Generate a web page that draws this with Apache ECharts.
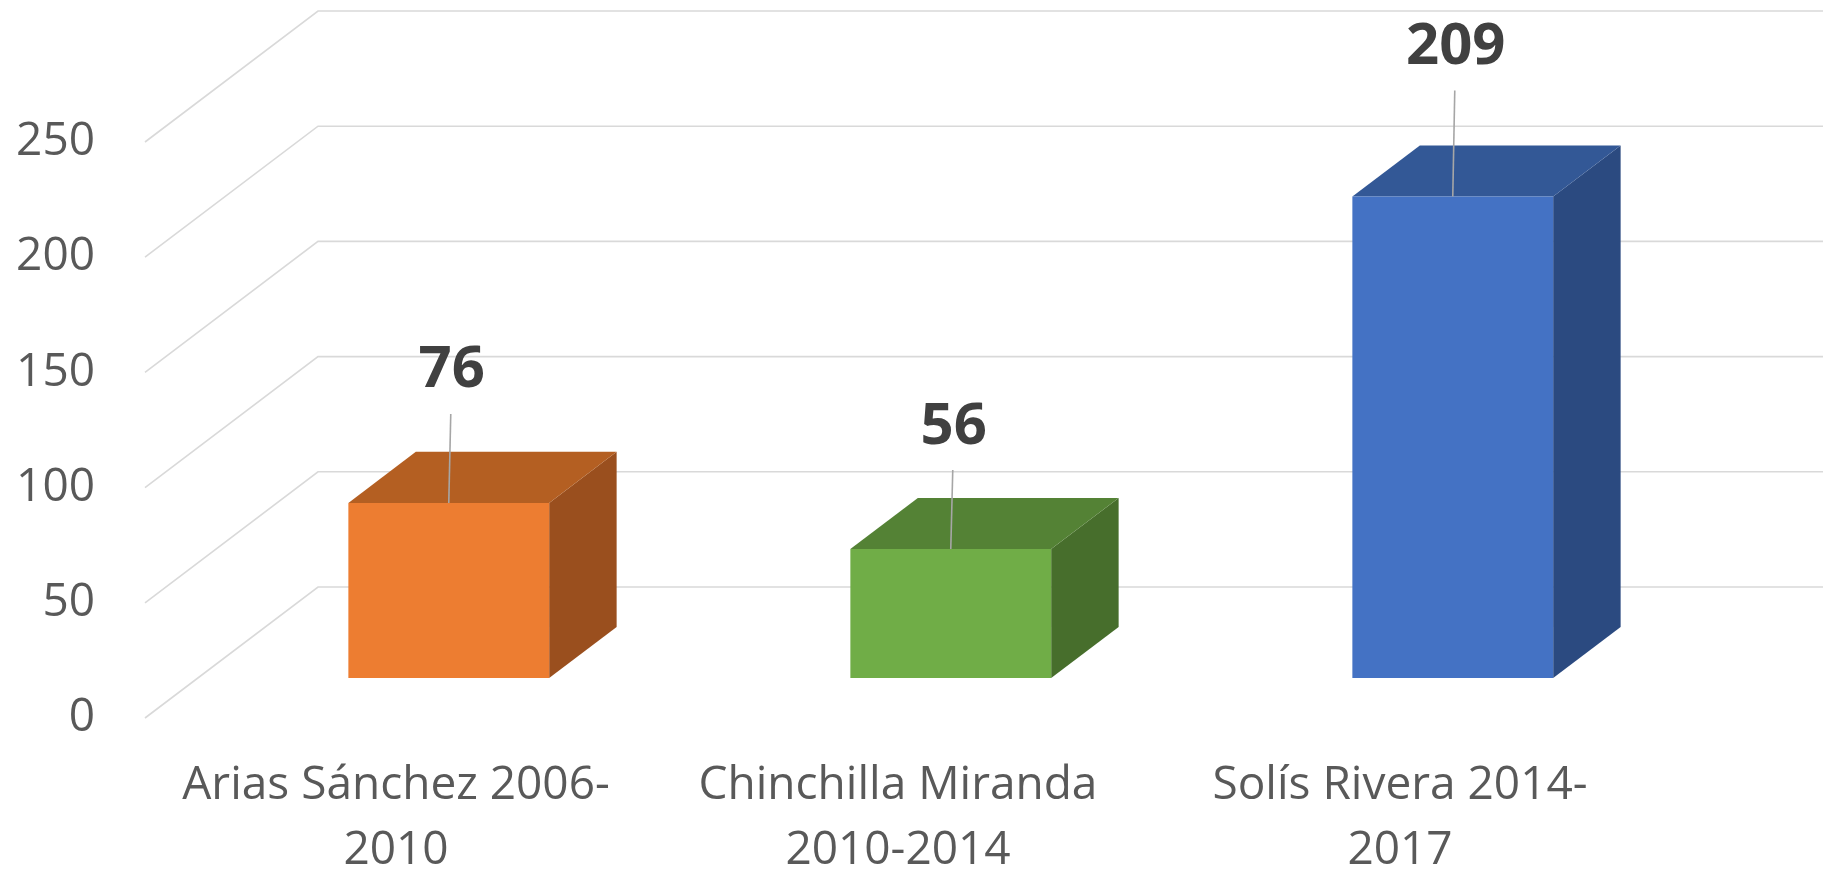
<!DOCTYPE html>
<html>
<head>
<meta charset="utf-8">
<script src="https://cdn.jsdelivr.net/npm/echarts@6/dist/echarts.min.js"></script>
<style>
  html, body { margin: 0; padding: 0; background: #fff; }
  #main { width: 1823px; height: 872px; }
</style>
</head>
<body>
<div id="main"></div>
<script>
// data
var categories = ['Arias Sánchez 2006-\n2010', 'Chinchilla Miranda\n2010-2014', 'Solís Rivera 2014-\n2017'];
var values = [76, 56, 209];
var yTicks = [0, 50, 100, 150, 200, 250];

// look
var frontColors = ['#ED7D31', '#70AD47', '#4472C4'];
var topColors = ['#B45F22', '#548235', '#335896'];
var sideColors = ['#9A4F1E', '#476E2C', '#2B4A80'];
var labelLift = [89, 79, 106];
var DEPTH_X = 173, DEPTH_Y = 131; // floor depth, label plane -> back wall
var FRONT = 0.305, BACK = 0.695;   // bar faces along the depth
var FONT = '"Open Sans", "Noto Sans", sans-serif';

var chart = echarts.init(document.getElementById('main'));

function renderWall(params, api) {
  var cs = params.coordSys;
  var y = api.coord([0, api.value(0)])[1];
  var x0 = cs.x, x1 = cs.x + cs.width;
  return {
    type: 'polyline',
    shape: { points: [[x0, y], [x0 + DEPTH_X, y - DEPTH_Y], [x1 + DEPTH_X, y - DEPTH_Y]] },
    style: { stroke: '#D9D9D9', lineWidth: 1.6, fill: null }
  };
}

function renderBar(params, api) {
  var i = api.value(0);
  var top = api.coord([i, api.value(1)]);
  var base = api.coord([i, 0]);
  var hw = api.size([1, 0])[0] * 0.2;
  var fx = DEPTH_X * FRONT, fy = DEPTH_Y * FRONT;
  var bx = DEPTH_X * BACK, by = DEPTH_Y * BACK;
  var l = top[0] - hw + fx, r = top[0] + hw + fx;
  var t = top[1] - fy, b = base[1] - fy;
  var dx = bx - fx, dy = by - fy;
  var cx = top[0] + fx;
  var lift = labelLift[params.dataIndex];
  return {
    type: 'group',
    children: [
      { type: 'polygon', shape: { points: [[r, t], [r + dx, t - dy], [r + dx, b - dy], [r, b]] },
        style: { fill: sideColors[params.dataIndex] } },
      { type: 'polygon', shape: { points: [[l, t], [l + dx, t - dy], [r + dx, t - dy], [r, t]] },
        style: { fill: topColors[params.dataIndex] } },
      { type: 'rect', shape: { x: l, y: t, width: r - l, height: b - t },
        style: { fill: frontColors[params.dataIndex] } },
      { type: 'line', shape: { x1: cx, y1: t, x2: cx + 2, y2: t - lift },
        style: { stroke: '#A6A6A6', lineWidth: 1.6 } },
      { type: 'text', style: { text: String(api.value(1)), x: cx + 3, y: t - lift - 43,
        align: 'center', verticalAlign: 'middle', fill: '#404040',
        font: 'bold 58px ' + FONT } }
    ]
  };
}

var option = {
  animation: false,
  grid: { left: 145, right: 172, top: 142, bottom: 154, outerBoundsMode: 'none' },
  xAxis: {
    type: 'category',
    data: categories,
    axisLine: { show: false },
    axisTick: { show: false },
    axisLabel: { color: '#595959', fontSize: 46, lineHeight: 65, margin: 35, fontFamily: FONT, interval: 0 }
  },
  yAxis: {
    type: 'value',
    min: 0,
    max: 250,
    interval: 50,
    axisLine: { show: false },
    axisTick: { show: false },
    splitLine: { show: false },
    axisLabel: { color: '#595959', fontSize: 46, margin: 50, fontFamily: FONT }
  },
  series: [
    {
      type: 'custom',
      renderItem: renderWall,
      data: yTicks.map(function (v) { return [v]; }),
      encode: { y: 0 },
      z: 1,
      silent: true
    },
    {
      type: 'custom',
      renderItem: renderBar,
      data: values.map(function (v, i) { return [i, v]; }),
      encode: { x: 0, y: 1 },
      z: 2
    }
  ]
};

chart.setOption(option);
</script>
</body>
</html>
